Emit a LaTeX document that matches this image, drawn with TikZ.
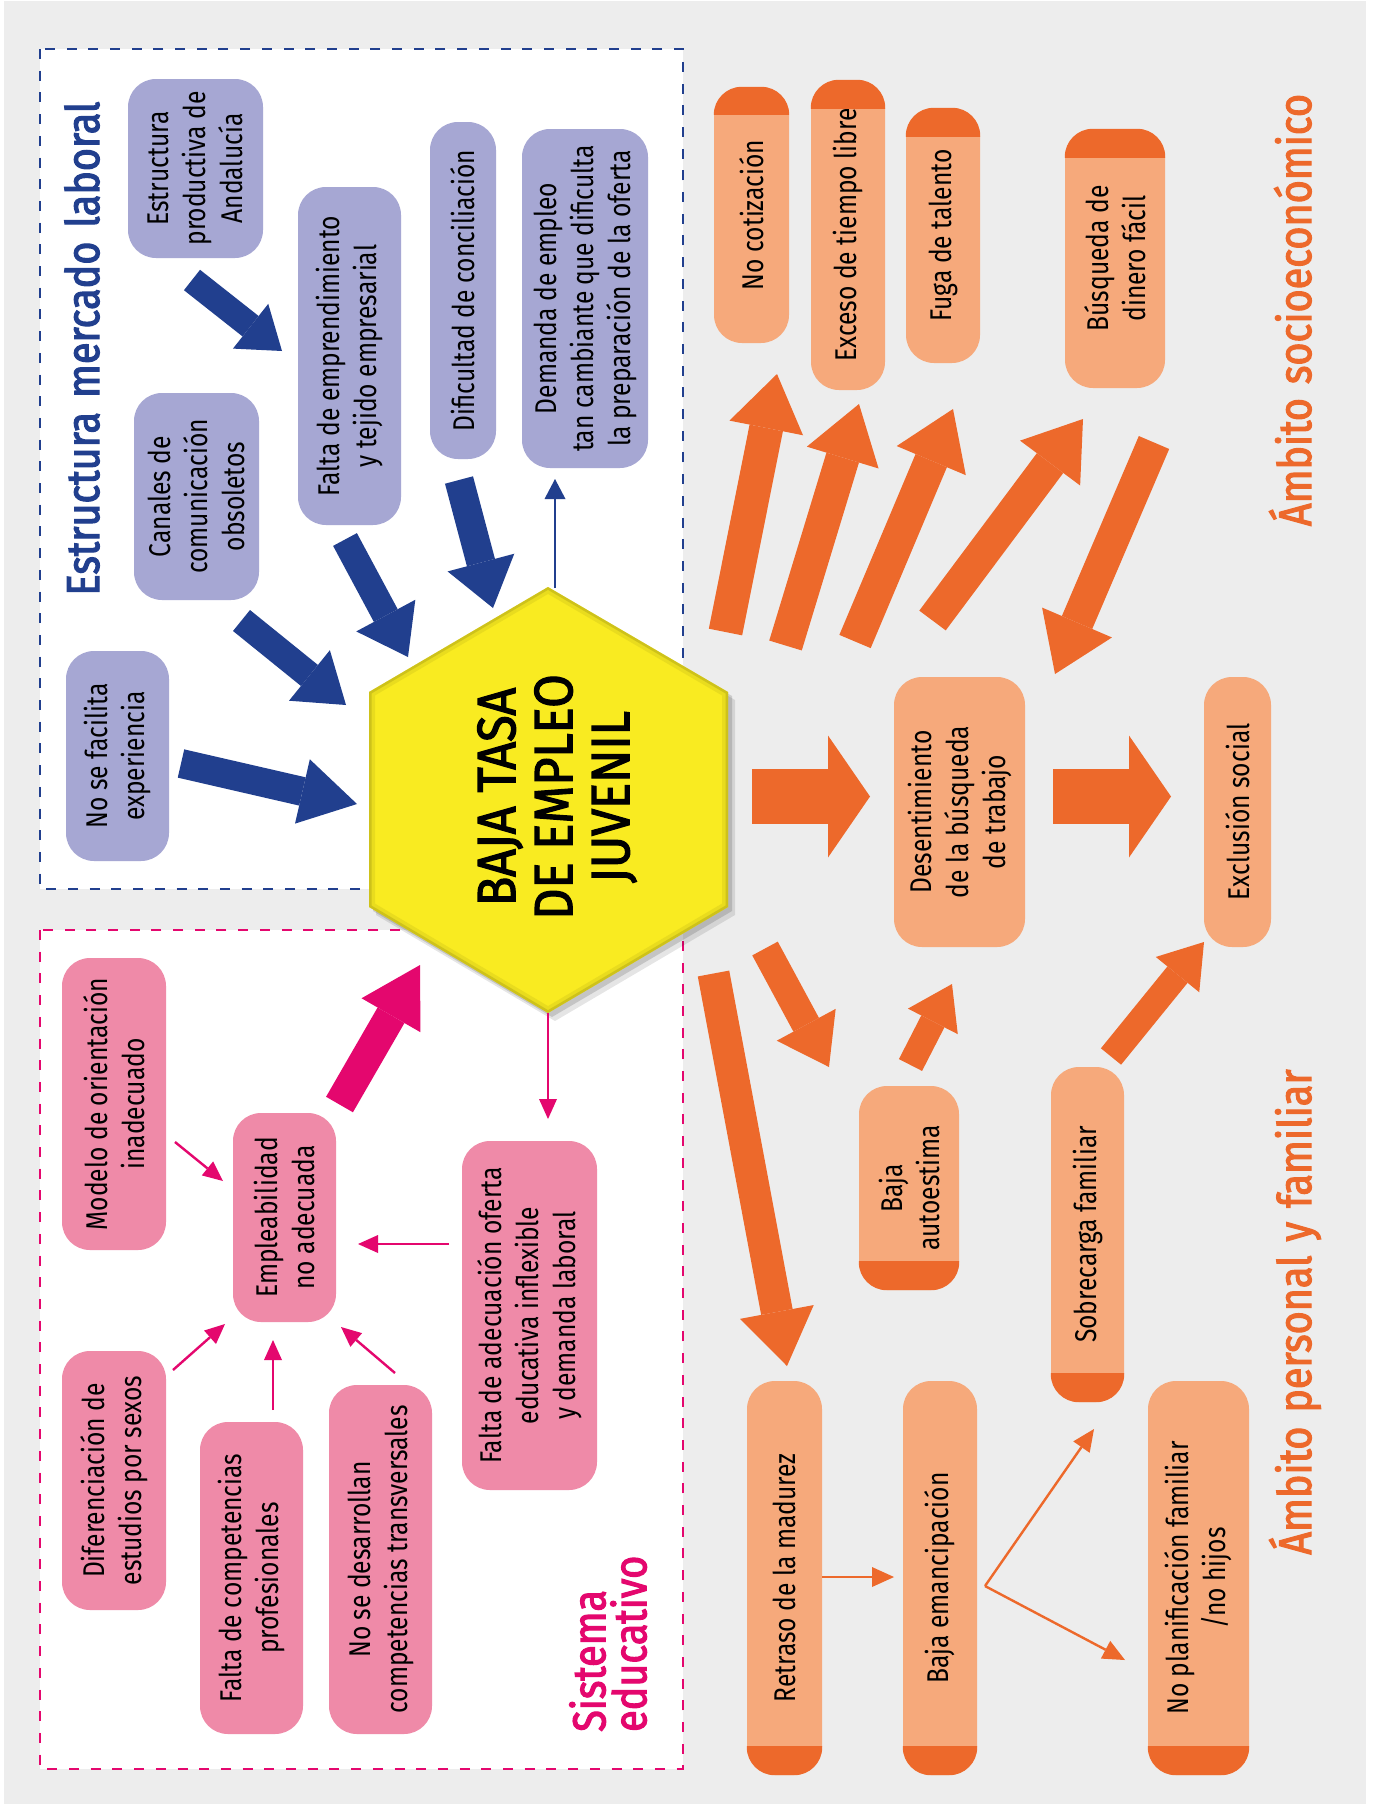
\documentclass[tikz,border=0pt]{standalone}
\usepackage{fontspec}
\setmainfont{Fira Sans}[FakeStretch=0.82]
\newfontfamily\ttlfam{Fira Sans}[FakeStretch=0.86,FakeBold=2.5]
\newfontfamily\hexfam{Fira Sans}[FakeStretch=0.9,FakeBold=2.2]
\usetikzlibrary{arrows.meta,calc}
\definecolor{bgg}{HTML}{EDEDED}
\definecolor{navy}{HTML}{213F8E}
\definecolor{lav}{HTML}{A6A7D3}
\definecolor{pbox}{HTML}{EF8AA8}
\definecolor{pdark}{HTML}{E4076E}
\definecolor{olight}{HTML}{F6A97B}
\definecolor{odark}{HTML}{ED692B}
\definecolor{yel}{HTML}{F9EB21}
\newcommand{\bxf}{\fontsize{30}{37}\selectfont}
\newcommand{\ttlf}{\ttlfam\fontsize{46}{41}\selectfont}
\newcommand{\hxf}{\hexfam\fontsize{54}{57}\selectfont}
\newcommand{\wg}{\hspace{14pt}}
\newcommand{\mkcapT}[2]{\begin{scope}\clip[rounded corners=28pt] (#1.north east) rectangle (#1.south west);
  \fill[odark] ($(#1.north east)+(-2,-2)$) rectangle ($(#1.south east)+(2,#2)$);\end{scope}}
\newcommand{\mkcapB}[2]{\begin{scope}\clip[rounded corners=28pt] (#1.north east) rectangle (#1.south west);
  \fill[odark] ($(#1.north west)+(-2,2)$) rectangle ($(#1.south west)+(2,-#2)$);\end{scope}}
\begin{document}
\begin{tikzpicture}[x=1pt,y=-1pt,
  box/.style={rotate=90, rounded corners=28pt, inner sep=0pt, align=center, font=\bxf, text=black},
  lbx/.style={box, fill=lav},
  pbx/.style={box, fill=pbox},
  obx/.style={box, fill=olight},
  sz/.style 2 args={minimum width=#1pt, minimum height=#2pt},
  blk/.style n args={3}{line width=#1pt, line cap=butt, -{Triangle[width=#2pt,length=#3pt,line width=0pt]}},
  thinarr/.style={line width=2.4pt, -{Triangle[width=18pt,length=20pt,line width=0pt]}},
  ttl/.style={rotate=90, anchor=base, inner sep=0pt, font=\ttlf},
  dashbox/.style={line width=2pt, dash pattern=on 10pt off 11.7pt}
]
\useasboundingbox (0,0) rectangle (1374,1804);
\fill[white] (0,0) rectangle (1374,1804);
\fill[bgg] (4,1) rectangle (1366,1804);
% frames
\fill[white] (40,49) rectangle (683,889);
\draw[navy, dashbox] (40,49) rectangle (683,889);
\fill[white] (40,930) rectangle (683,1769);
\draw[pdark, dashbox] (40,930) rectangle (683,1769);

% titles
\node[ttl, text=navy] (t1) at (99,348.5) {Estructura\wg mercado\wg laboral};
\node[ttl, text=odark] (t2) at (1311,310) {Ámbito\wg socioeconómico};
\node[ttl, text=odark] (t3) at (1311,1312) {Ámbito\wg personal\wg y\wg familiar};
\node[rotate=90, anchor=south west, inner sep=0pt, align=left, font=\ttlf, text=pdark] (t4) at (647,1732) {Sistema\\educativo};

% blue boxes
\node[lbx, sz={179}{135}] (b1) at (195.5,168.5) {Estructura\\productiva de\\Andalucía};
\node[lbx, sz={207}{125}] (b2) at (196.5,496.5) {Canales de\\comunicación\\obsoletos};
\node[lbx, sz={210}{103}] (b3) at (117.5,756) {No se facilita\\experiencia};
\node[lbx, sz={338}{103}] (b4) at (349.5,356) {Falta de emprendimiento\\y tejido empresarial};
\node[lbx, sz={337}{66}] (b5) at (463,290.5) {Dificultad de conciliación};
\node[lbx, sz={339}{126}] (b6) at (585,298.5) {Demanda de empleo\\tan cambiante que dificulta\\la preparación de la oferta};

% pink boxes
\node[pbx, sz={292}{104}] (p1) at (114,1104) {Modelo de orientación\\inadecuado};
\node[pbx, sz={209}{103}] (p2) at (284.5,1217.5) {Empleabilidad\\no adecuada};
\node[pbx, sz={259}{104}] (p3) at (114,1480.5) {Diferenciación de\\estudios por sexos};
\node[pbx, sz={312}{103}] (p4) at (251.5,1578) {Falta de competencias\\profesionales};
\node[pbx, sz={349}{103}] (p5) at (380.5,1559.5) {No se desarrollan\\competencias transversales};
\node[pbx, sz={349}{135}] (p6) at (529.5,1315.5) {Falta de adecuación oferta\\educativa inflexible\\y demanda laboral};

% orange boxes
\node[obx, sz={256}{75}] (o1) at (751.5,215) {No cotización};
\node[obx, sz={310}{74}] (o2) at (848,235) {Exceso de tiempo libre};
\node[obx, sz={255}{74}] (o3) at (943,235.5) {Fuga de talento};
\node[obx, sz={259}{100}] (o4) at (1115,258.5) {Búsqueda de\\dinero fácil};
\node[obx, sz={270}{131}] (o5) at (959.5,812) {Desentimiento\\de la búsqueda\\de trabajo};
\node[obx, sz={270}{67}] (o6) at (1237.5,812) {Exclusión social};
\node[obx, sz={204}{100}] (o7) at (909,1188) {Baja\\autoestima};
\node[obx, sz={335}{73}] (o8) at (1087.5,1234.5) {Sobrecarga familiar};
\node[obx, sz={394}{75}] (o9) at (784.5,1578) {Retraso de la madurez};
\node[obx, sz={394}{74}] (o10) at (940,1578) {Baja emancipación};
\node[obx, sz={394}{101}] (o11) at (1198.5,1578) {No planificación familiar\\/no hijos};
\mkcapT{o1}{28}
\mkcapT{o2}{29}
\mkcapT{o3}{29}
\mkcapT{o4}{29}
\mkcapB{o7}{29}
\mkcapB{o8}{29}
\mkcapB{o9}{29}
\mkcapB{o10}{29}
\mkcapB{o11}{29}

% hexagon
\fill[black, opacity=0.10, shift={(7,8)}] (548,587) -- (728,692) -- (728,907) -- (548,1013) -- (369,907) -- (369,692) -- cycle;
\fill[black, opacity=0.14, shift={(4,4)}] (548,587) -- (728,692) -- (728,907) -- (548,1013) -- (369,907) -- (369,692) -- cycle;
\fill[yel] (548,587) -- (728,692) -- (728,907) -- (548,1013) -- (369,907) -- (369,692) -- cycle;
\begin{scope}
\clip (548,587) -- (728,692) -- (728,907) -- (548,1013) -- (369,907) -- (369,692) -- cycle;
\draw[line width=12pt, color=yel!75!black, opacity=0.25] (548,587) -- (728,692) -- (728,907) -- (548,1013) -- (369,907) -- (369,692) -- cycle;
\draw[line width=5pt, color=yel!70!black, opacity=0.45] (548,587) -- (728,692) -- (728,907) -- (548,1013) -- (369,907) -- (369,692) -- cycle;
\end{scope}
\node[rotate=90, align=center, inner sep=0pt, font=\hxf] (hex) at (557,797) {BAJA\wg TASA\\DE EMPLEO\\JUVENIL};

% arrow end points
\coordinate (ba1s) at (192,280);   \coordinate (ba1e) at (282,351);
\coordinate (ba2s) at (241.5,620.5); \coordinate (ba2e) at (346,705);
\coordinate (ba3s) at (345,539.5); \coordinate (ba3e) at (408,657);
\coordinate (ba4s) at (459,480);   \coordinate (ba4e) at (493,608);
\coordinate (ba5s) at (181,763.5); \coordinate (ba5e) at (357,804);
\coordinate (bts) at (555,588);    \coordinate (bte) at (555,479);
\coordinate (pas) at (339.5,1104.5); \coordinate (pae) at (420,965);
\coordinate (pt1s) at (175,1142); \coordinate (pt1e) at (223,1181);
\coordinate (pt2s) at (173,1370); \coordinate (pt2e) at (225,1324);
\coordinate (pt3s) at (273,1410); \coordinate (pt3e) at (273,1340);
\coordinate (pt4s) at (395,1373); \coordinate (pt4e) at (341,1327);
\coordinate (pt5s) at (449,1244); \coordinate (pt5e) at (358,1244);
\coordinate (pt6s) at (548,1013); \coordinate (pt6e) at (548,1119);
\coordinate (oa1s) at (725.5,632); \coordinate (oa1e) at (777,374);
\coordinate (oa2s) at (785.5,645.5); \coordinate (oa2e) at (859,404);
\coordinate (oa3s) at (855,641.5); \coordinate (oa3e) at (953,409);
\coordinate (oa4s) at (932.5,620.5); \coordinate (oa4e) at (1083,419);
\coordinate (oa5s) at (1154,442.5); \coordinate (oa5e) at (1055,674);
\coordinate (oa6s) at (752,796.5); \coordinate (oa6e) at (870,796.5);
\coordinate (oa7s) at (1053,796.5); \coordinate (oa7e) at (1171,796.5);
\coordinate (oa8s) at (765,948.5); \coordinate (oa8e) at (829,1067);
\coordinate (oa9s) at (713.5,973.5); \coordinate (oa9e) at (787,1366);
\coordinate (oa10s) at (910.5,1065); \coordinate (oa10e) at (952,984);
\coordinate (oa11s) at (1111,1056.5); \coordinate (oa11e) at (1204,942);
\coordinate (ot1s) at (822,1577); \coordinate (ot1e) at (894,1577);
\coordinate (vtx) at (985,1586);
\coordinate (ot2e) at (1094,1429);
\coordinate (ot3e) at (1125,1660);

% blue arrows
\draw[navy, blk={26}{57}{40}] (ba1s) -- (ba1e);
\draw[navy, blk={27}{65}{47}] (ba2s) -- (ba2e);
\draw[navy, blk={27}{67}{47}] (ba3s) -- (ba3e);
\draw[navy, blk={29}{69}{47}] (ba4s) -- (ba4e);
\draw[navy, blk={29}{66}{56}] (ba5s) -- (ba5e);
\draw[navy, line width=2.2pt, -{Triangle[width=21pt,length=20pt,line width=0pt]}] (bts) -- (bte);

% pink arrows
\draw[pdark, blk={31}{68}{58}] (pas) -- (pae);
\draw[pdark, thinarr] (pt1s) -- (pt1e);
\draw[pdark, thinarr] (pt2s) -- (pt2e);
\draw[pdark, thinarr] (pt3s) -- (pt3e);
\draw[pdark, thinarr] (pt4s) -- (pt4e);
\draw[pdark, thinarr] (pt5s) -- (pt5e);
\draw[pdark, thinarr] (pt6s) -- (pt6e);

% orange arrows
\draw[odark, blk={34}{75}{55}] (oa1s) -- (oa1e);
\draw[odark, blk={34}{75}{56}] (oa2s) -- (oa2e);
\draw[odark, blk={34}{75}{56}] (oa3s) -- (oa3e);
\draw[odark, blk={33}{75}{55}] (oa4s) -- (oa4e);
\draw[odark, blk={33}{76}{56}] (oa5s) -- (oa5e);
\draw[odark, blk={55}{122}{42}] (oa6s) -- (oa6e);
\draw[odark, blk={55}{122}{42}] (oa7s) -- (oa7e);
\draw[odark, blk={29}{67}{48}] (oa8s) -- (oa8e);
\draw[odark, blk={32}{75}{55}] (oa9s) -- (oa9e);
\draw[odark, blk={26}{56}{42}] (oa10s) -- (oa10e);
\draw[odark, blk={26}{56}{42}] (oa11s) -- (oa11e);
\draw[odark, line width=2.4pt, -{Triangle[width=20pt,length=22pt,line width=0pt]}] (ot1s) -- (ot1e);
\draw[odark, line width=2.4pt, -{Triangle[width=20pt,length=22pt,line width=0pt]}] (vtx) -- (ot2e);
\draw[odark, line width=2.4pt, -{Triangle[width=20pt,length=22pt,line width=0pt]}] (vtx) -- (ot3e);
\end{tikzpicture}
\end{document}
